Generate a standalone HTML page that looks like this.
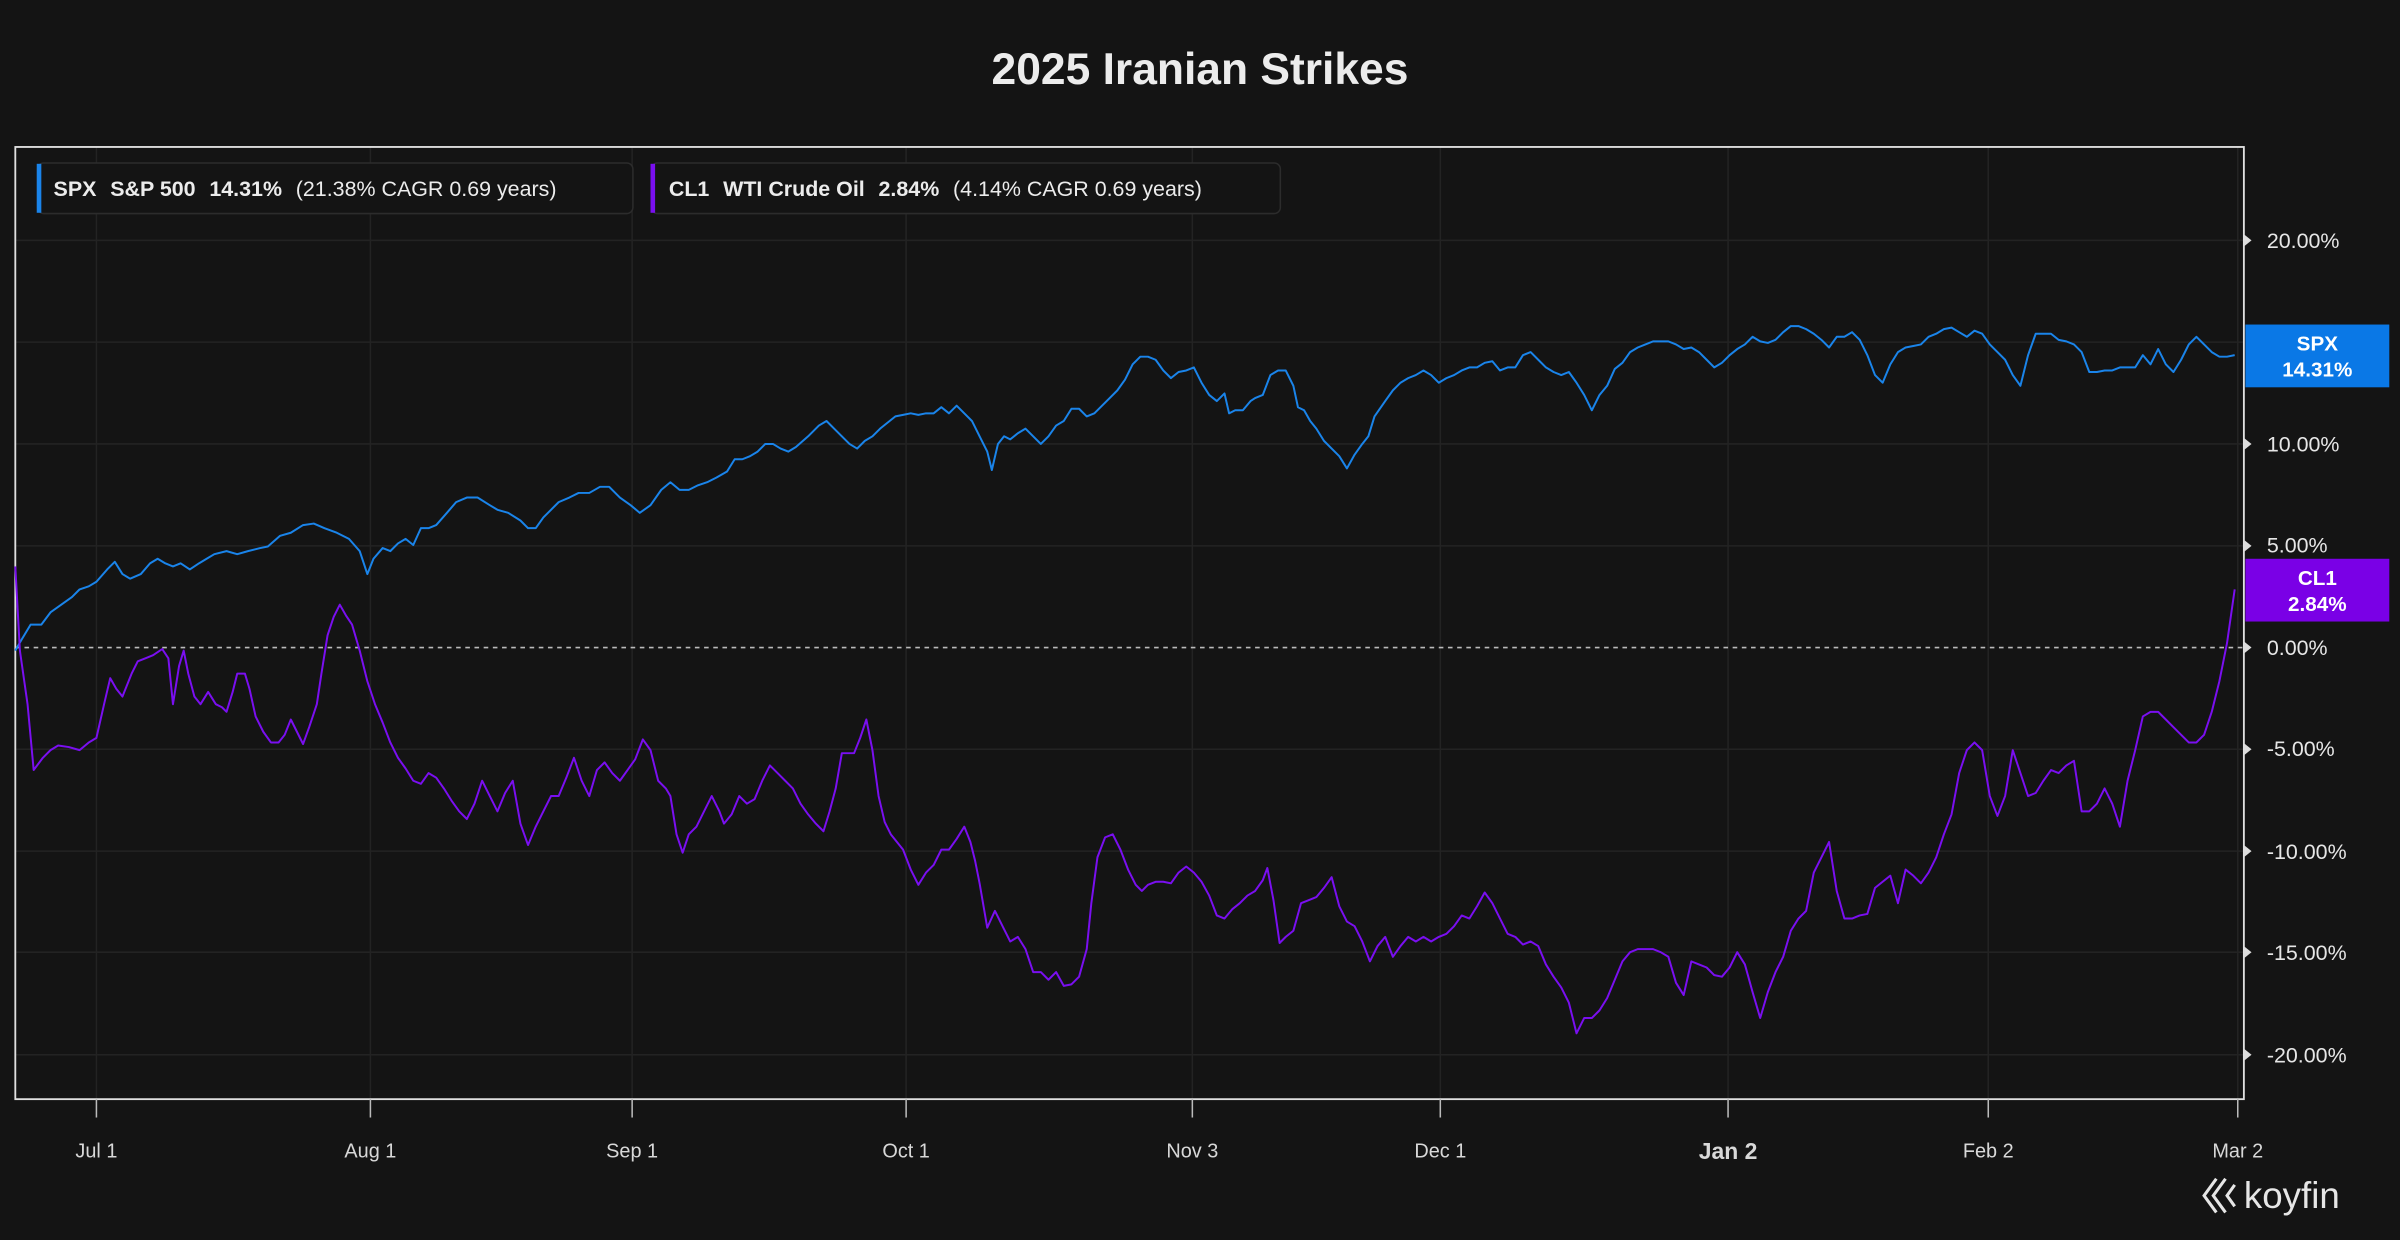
<!DOCTYPE html>
<html><head><meta charset="utf-8"><style>
html,body{margin:0;padding:0;background:#141414;}
svg{display:block;}
text{font-family:"Liberation Sans",sans-serif;}
</style></head><body>
<svg width="2400" height="1240" viewBox="0 0 1568 810" preserveAspectRatio="none" xmlns="http://www.w3.org/2000/svg">
<rect width="1568" height="810" fill="#141414"/>
<text x="784" y="55" text-anchor="middle" fill="#ececec" font-size="29" font-weight="bold">2025 Iranian Strikes</text>
<g stroke="#232323" stroke-width="1">
<line x1="10" x2="1466" y1="157" y2="157"/><line x1="10" x2="1466" y1="223.5" y2="223.5"/><line x1="10" x2="1466" y1="290" y2="290"/><line x1="10" x2="1466" y1="356.6" y2="356.6"/><line x1="10" x2="1466" y1="489.4" y2="489.4"/><line x1="10" x2="1466" y1="556" y2="556"/><line x1="10" x2="1466" y1="622" y2="622"/><line x1="10" x2="1466" y1="689" y2="689"/>
<line x1="63" x2="63" y1="96" y2="718"/><line x1="242" x2="242" y1="96" y2="718"/><line x1="413" x2="413" y1="96" y2="718"/><line x1="592" x2="592" y1="96" y2="718"/><line x1="779" x2="779" y1="96" y2="718"/><line x1="941" x2="941" y1="96" y2="718"/><line x1="1129" x2="1129" y1="96" y2="718"/><line x1="1299" x2="1299" y1="96" y2="718"/><line x1="1462" x2="1462" y1="96" y2="718"/>
</g>
<line x1="10" x2="1466" y1="423" y2="423" stroke="#bbb" stroke-width="1" stroke-dasharray="3,3"/>
<rect x="10" y="96" width="1456" height="622" fill="none" stroke="#e0e0e0" stroke-width="1.2"/>
<g stroke="#bbb" stroke-width="1">
<line x1="63" x2="63" y1="718" y2="730"/><line x1="242" x2="242" y1="718" y2="730"/><line x1="413" x2="413" y1="718" y2="730"/><line x1="592" x2="592" y1="718" y2="730"/><line x1="779" x2="779" y1="718" y2="730"/><line x1="941" x2="941" y1="718" y2="730"/><line x1="1129" x2="1129" y1="718" y2="730"/><line x1="1299" x2="1299" y1="718" y2="730"/><line x1="1462" x2="1462" y1="718" y2="730"/>
</g>
<g fill="#d8d8d8" font-size="13" text-anchor="middle">
<text x="63" y="756">Jul 1</text><text x="242" y="756">Aug 1</text><text x="413" y="756">Sep 1</text><text x="592" y="756">Oct 1</text><text x="779" y="756">Nov 3</text><text x="941" y="756">Dec 1</text><text x="1129" y="757" font-size="15" font-weight="bold">Jan 2</text><text x="1299" y="756">Feb 2</text><text x="1462" y="756">Mar 2</text>
</g>
<g fill="#e6e6e6" font-size="14">
<text x="1481" y="162">20.00%</text><text x="1481" y="228">15.00%</text><text x="1481" y="295">10.00%</text><text x="1481" y="361">5.00%</text><text x="1481" y="428">0.00%</text><text x="1481" y="494">-5.00%</text><text x="1481" y="561">-10.00%</text><text x="1481" y="627">-15.00%</text><text x="1481" y="694">-20.00%</text>
</g>
<g fill="#ddd">
<path d="M1466,153 l5,4 l-5,4z"/><path d="M1466,286 l5,4 l-5,4z"/><path d="M1466,352.6 l5,4 l-5,4z"/><path d="M1466,419 l5,4 l-5,4z"/><path d="M1466,485.4 l5,4 l-5,4z"/><path d="M1466,552 l5,4 l-5,4z"/><path d="M1466,618 l5,4 l-5,4z"/><path d="M1466,685 l5,4 l-5,4z"/>
</g>
<polyline fill="none" stroke="#1a84ea" stroke-width="1.3" stroke-linejoin="round" points="10,425 14,418 20,408 27,408 33,400 40,395 47,390 52,385 58,383 63,380 70,372 75,367 80,375 85,378 92,375 98,368 103,365 108,368 113,370 118,368 124,372 130,368 135,365 140,362 148,360 155,362 162,360 170,358 175,357 183,350 190,348 198,343 205,342 212,345 220,348 228,352 235,360 240,375 244,365 250,358 255,360 260,355 265,352 270,356 275,345 280,345 285,343 292,335 298,328 305,325 312,325 320,330 325,333 332,335 340,340 345,345 350,345 355,338 360,333 365,328 372,325 378,322 385,322 392,318 398,318 405,325 412,330 418,335 425,330 432,320 438,315 444,320 450,320 456,317 462,315 468,312 475,308 480,300 485,300 490,298 495,295 500,290 505,290 510,293 515,295 520,292 528,285 535,278 540,275 545,280 550,285 555,290 560,293 565,288 570,285 575,280 580,276 585,272 590,271 595,270 600,271 605,270 610,270 615,266 620,270 625,265 630,270 635,275 640,285 645,295 648,307 652,290 656,285 660,287 665,283 670,280 675,285 680,290 685,285 690,278 695,275 700,267 705,267 710,272 715,270 720,265 725,260 730,255 735,248 740,238 745,233 750,233 755,235 760,242 765,247 770,243 775,242 780,240 785,250 790,258 795,262 800,257 803,270 807,268 812,268 817,262 820,260 825,258 830,245 835,242 840,242 845,252 848,266 852,268 856,275 860,280 865,288 870,293 875,298 880,306 885,297 890,290 894,285 898,272 905,262 910,255 915,250 920,247 925,245 930,242 935,245 940,250 945,247 950,245 955,242 960,240 965,240 970,237 975,236 980,242 985,240 990,240 995,232 1000,230 1005,235 1010,240 1015,243 1020,245 1025,243 1030,250 1035,258 1040,268 1045,258 1050,252 1055,241 1060,237 1065,230 1070,227 1075,225 1080,223 1085,223 1090,223 1095,225 1100,228 1105,227 1110,230 1115,235 1120,240 1125,237 1130,232 1135,228 1140,225 1145,220 1150,223 1155,224 1160,222 1165,217 1170,213 1175,213 1180,215 1185,218 1190,222 1195,227 1200,220 1205,220 1210,217 1215,222 1220,232 1225,245 1230,250 1235,238 1240,230 1245,227 1250,226 1255,225 1260,220 1265,218 1270,215 1275,214 1280,217 1285,220 1290,216 1295,218 1300,225 1305,230 1310,235 1315,245 1320,252 1325,232 1330,218 1335,218 1340,218 1345,222 1350,223 1355,225 1360,230 1365,243 1370,243 1375,242 1380,242 1385,240 1390,240 1395,240 1400,232 1405,238 1410,228 1415,238 1420,243 1425,235 1430,225 1435,220 1440,225 1445,230 1450,233 1455,233 1460,232"/>
<polyline fill="none" stroke="#7a0ff0" stroke-width="1.3" stroke-linejoin="round" points="10,370 13,425 18,460 22,503 28,495 33,490 38,487 45,488 52,490 58,485 63,482 68,460 72,443 76,450 80,455 86,440 90,432 95,430 100,428 106,424 110,430 113,460 117,435 120,425 123,440 127,455 131,460 136,452 141,460 145,462 148,465 152,452 155,440 160,440 163,450 167,468 172,478 177,485 182,485 186,480 190,470 194,478 198,486 202,475 207,460 210,440 214,415 218,403 222,395 226,402 230,408 235,425 240,445 245,460 250,472 255,485 260,495 265,502 270,510 275,512 280,505 285,508 290,515 295,523 300,530 305,535 310,525 315,510 320,520 325,530 330,518 335,510 340,538 345,552 350,540 355,530 360,520 365,520 370,508 375,495 380,510 385,520 390,503 395,498 400,505 405,510 410,503 415,496 420,483 425,490 430,510 435,515 438,520 442,545 446,557 450,545 455,540 460,530 465,520 470,530 473,538 478,532 483,520 488,525 493,522 498,510 503,500 508,505 513,510 518,515 523,525 528,532 533,538 538,543 542,530 546,515 550,492 554,492 558,492 562,482 566,470 570,490 574,520 578,537 582,545 586,550 590,555 595,568 600,578 605,570 610,565 615,555 620,555 625,548 630,540 634,550 637,562 640,577 645,606 650,595 655,605 660,615 665,612 670,620 675,635 680,635 685,640 690,635 695,644 700,643 705,638 710,620 713,590 717,560 722,547 727,545 732,555 737,568 742,578 746,582 750,578 755,576 760,576 765,577 770,570 775,566 780,570 785,576 790,585 795,598 800,600 805,594 810,590 815,585 820,582 825,575 828,567 832,588 836,616 840,612 845,608 850,590 855,588 860,586 865,580 870,573 875,592 880,602 885,605 890,615 895,628 900,618 905,612 910,625 915,618 920,612 925,615 930,612 935,615 940,612 945,610 950,605 955,598 960,600 965,592 970,583 975,590 980,600 985,610 990,612 995,617 1000,615 1005,618 1010,630 1015,638 1020,645 1025,655 1030,675 1035,665 1040,665 1045,660 1050,652 1055,640 1060,628 1065,622 1070,620 1075,620 1080,620 1085,622 1090,625 1095,642 1100,650 1105,628 1110,630 1115,632 1120,637 1125,638 1130,632 1135,622 1140,630 1145,648 1150,665 1155,648 1160,635 1165,625 1170,608 1175,600 1180,595 1185,570 1190,560 1195,550 1200,582 1205,600 1210,600 1215,598 1220,597 1225,580 1230,576 1235,572 1240,590 1245,568 1250,572 1255,577 1260,570 1265,560 1270,545 1275,532 1280,505 1285,490 1290,485 1295,490 1300,520 1305,533 1310,520 1315,490 1320,505 1325,520 1330,518 1335,510 1340,503 1345,505 1350,500 1355,497 1360,530 1365,530 1370,525 1375,515 1380,525 1385,540 1390,510 1395,490 1400,468 1405,465 1410,465 1415,470 1420,475 1425,480 1430,485 1435,485 1440,480 1445,465 1450,445 1455,420 1460,385"/>
<rect x="24.5" y="106.5" width="389" height="33" rx="4" fill="#141414" stroke="#2c2c2c"/>
<rect x="24" y="107" width="3" height="32" fill="#1a84ea"/>
<text x="35" y="128" fill="#ececec" font-size="14"><tspan font-weight="bold">SPX</tspan><tspan dx="9" font-weight="bold">S&amp;P 500</tspan><tspan dx="9" font-weight="bold">14.31%</tspan><tspan dx="9">(21.38% CAGR 0.69 years)</tspan></text>
<rect x="425.5" y="106.5" width="411" height="33" rx="4" fill="#141414" stroke="#2c2c2c"/>
<rect x="425" y="107" width="3" height="32" fill="#7a0ff0"/>
<text x="437" y="128" fill="#ececec" font-size="14"><tspan font-weight="bold">CL1</tspan><tspan dx="9" font-weight="bold">WTI Crude Oil</tspan><tspan dx="9" font-weight="bold">2.84%</tspan><tspan dx="9">(4.14% CAGR 0.69 years)</tspan></text>
<rect x="1467" y="212" width="94" height="41" fill="#0a78e6"/>
<text x="1514" y="229" text-anchor="middle" fill="#fff" font-size="13.5" font-weight="bold">SPX</text>
<text x="1514" y="246" text-anchor="middle" fill="#fff" font-size="13.5" font-weight="bold">14.31%</text>
<rect x="1467" y="365" width="94" height="41" fill="#7a00e6"/>
<text x="1514" y="382" text-anchor="middle" fill="#fff" font-size="13.5" font-weight="bold">CL1</text>
<text x="1514" y="399" text-anchor="middle" fill="#fff" font-size="13.5" font-weight="bold">2.84%</text>
<path d="M1448,770 l-8,11 l8,11 M1454,770 l-8,11 l8,11 M1460,774 l-5,7 l5,7" fill="none" stroke="#e6e6e6" stroke-width="2"/>
<text x="1466" y="789" fill="#e6e6e6" font-size="24">koyfin</text>
</svg>
</body></html>
